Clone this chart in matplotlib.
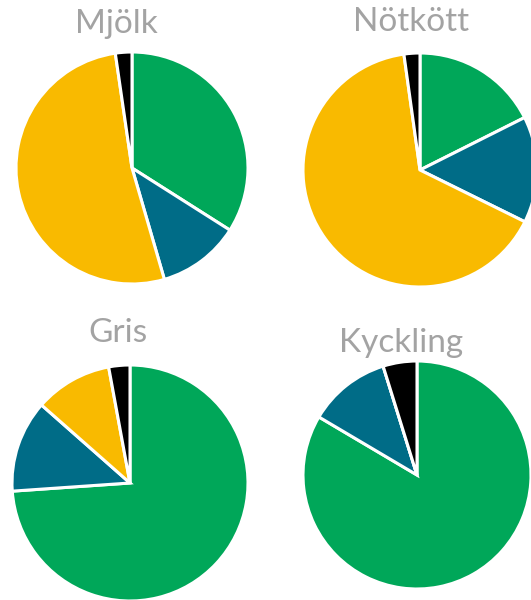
#Four pie charts showing the share of each category per product
import matplotlib.pyplot as plt

titles = ['Mjölk', 'Nötkött', 'Gris', 'Kyckling']
mjolk = [34.0, 11.5, 52.2, 2.3]
notkott = [17.6, 14.7, 65.5, 2.2]
gris = [73.9, 12.6, 10.6, 2.9]
kyckling = [83.5, 11.7, 0.0, 4.8]
colors = ['#00A759', '#006C87', '#F9BA00', '#000000']

W, H = 531, 600
fig = plt.figure(figsize=(W / 100, H / 100), dpi=100)

# pie centre (px from top-left), radius, title centre
layout = [
    (132, 168, 116, 116, 24),
    (420, 170, 117, 411, 22),
    (130, 483, 118, 118, 333),
    (417, 475, 114, 401, 343),
]

for name, vals, (cx, cy, r, tx, ty) in zip(titles, [mjolk, notkott, gris, kyckling], layout):
    ax = fig.add_axes([(cx - r) / W, (H - cy - r) / H, 2 * r / W, 2 * r / H])
    ax.pie(vals, colors=colors, startangle=90, counterclock=False,
           wedgeprops={'edgecolor': 'white', 'linewidth': 2.2})
    ax.set_xlim(-1, 1)
    ax.set_ylim(-1, 1)
    ax.set_aspect('equal')
    ax.axis('off')
    fig.text(tx / W, 1 - ty / H, name, ha='center', va='center',
             fontsize=24, color='#A3A3A3', family=['Lato', 'DejaVu Sans'])

plt.savefig('out.png', dpi=100)
